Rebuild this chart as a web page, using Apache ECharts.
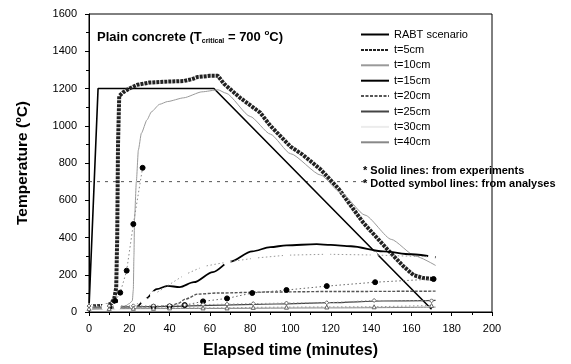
<!DOCTYPE html>
<html>
<head>
<meta charset="utf-8">
<script src="https://cdn.jsdelivr.net/npm/echarts@6/dist/echarts.min.js"></script>
<style>
html,body{margin:0;padding:0;background:#fff;}
#c{width:571px;height:364px;}
</style>
</head>
<body>
<div id="c"></div>
<script>
// ---- data (time in minutes, temperature in °C) ----
const legendNames = ['RABT scenario','t=5cm','t=10cm','t=15cm','t=20cm','t=25cm','t=30cm','t=40cm'];
const rabt = [[0,20],[4.5,1200],[62,1200],[170,15]];
const exp5 = [[0,30],[8,33],[11,45],[12.5,70],[13.5,130],[14,400],[14.4,900],[15,1160],[17,1180],[20,1200],[24,1220],[30,1232],[39,1237],[47,1240],[51,1250],[54,1262],[60,1268],[64,1268],[67,1225],[75,1150],[85,1070],[90,1000],[100,888],[106,845],[115,765],[124,660],[136,481],[148,337],[156,246],[161,198],[166,182],[171,177]];
const exp10 = [[0,25],[15,28],[18,32],[20,45],[21.5,60],[22,120],[22.3,300],[22.6,500],[23.5,700],[24.5,870],[26,960],[28.8,1032],[31,1075],[35,1115],[39,1130],[47,1150],[56,1182],[64,1193],[68,1175],[80,1050],[90,955],[100,850],[115,735],[125,640],[137,520],[150,390],[162,300],[172,250]];
const exp15 = [[0,20],[20,22],[24,32],[28,70],[33.6,123],[39,140],[45,134],[52,160],[61.5,214],[70,270],[81,326],[90,348],[98,358],[113,364],[120,360],[130,353],[146,326],[160,310],[172,294]];
const exp20 = [[0,22],[30,25],[40,32],[44,45],[48,70],[54,96],[64,102],[87,107],[120,110],[172,112]];
const exp25 = [[0,25],[20,27],[40,30],[60,36],[93,43],[120,50],[146,59],[172,62]];
const exp30 = [[0,20],[40,22],[80,24],[120,27],[172,30]];
const exp40 = [[0,17],[60,19],[120,22],[172,26]];
const anaA = [[13,59],[15.5,104],[18.7,222],[22,472],[26.6,774]];
const anaB = [[0,25],[10,25],[22,27],[32,28],[40,30],[47.5,37],[56.6,57],[68.5,73],[81,102],[98,118],[118,139],[142,160],[171,177]];
const anaC = [[0,27],[8,28],[14,30],[22,35],[27.4,60],[32,93],[47.5,200],[56.5,244],[68.5,268],[82,289],[98,305],[118,310],[141.5,306],[170,296]];
const anaD = [[0,32],[10,32],[22,33],[32,33],[40,35],[47.5,38],[56.6,40],[68.5,42],[81.5,45],[98,48],[118,50],[141.5,62],[170,60]];
const anaE = [[0,18],[10,18],[22,20],[32,20],[40,22],[56.6,22],[68.5,22],[81.5,25],[98,26],[118,27],[141.5,28],[170,35]];
const critical = [[0,700],[138,700]];
const xMax = 200, xStep = 20, yMax = 1600, yStep = 200;

const FF = '"Liberation Sans", Arial, sans-serif';
const chart = echarts.init(document.getElementById('c'), null, {renderer:'canvas'});

function exp(name, data, color, width, type, smooth){
  return {type:'line', name, data, symbol:'none', smooth: smooth||false, smoothMonotone:'x',
    lineStyle:{color, width, type: type||'solid'}, itemStyle:{color}, z:3, silent:true};
}
function ana(name, data, lineColor, symbol, symColor, size, filled){
  return {type:'line', name, data, symbol, symbolSize:size,
    lineStyle:{color:lineColor, width:1, type:[1.5,2.5]},
    itemStyle:{color: filled? symColor : '#fff', borderColor:symColor, borderWidth:1},
    z:4, silent:true};
}

chart.setOption({
  animation:false,
  backgroundColor:'#fff',
  textStyle:{fontFamily:FF},
  grid:{left:89,right:79,top:14,bottom:51,show:true,borderColor:'#000',borderWidth:1,containLabel:false},
  title:{
    left:97, top:29, padding:0,
    text:'{b|Plain concrete (T}{sub|critical}{b| = 700 }{sup|o}{b|C)}',
    textStyle:{rich:{
      b:{fontSize:13,fontWeight:'bold',color:'#000',fontFamily:FF,lineHeight:16},
      sub:{fontSize:7,fontWeight:'bold',color:'#000',fontFamily:FF,lineHeight:8,verticalAlign:'bottom'},
      sup:{fontSize:8,fontWeight:'bold',color:'#000',fontFamily:FF,lineHeight:8,verticalAlign:'top'}
    }}
  },
  legend:{
    data:legendNames, orient:'vertical', left:360, top:29, itemWidth:28, itemHeight:10, itemGap:4.4,
    padding:0, textStyle:{fontSize:11,color:'#000',fontFamily:FF}, selectedMode:false,
    itemStyle:{opacity:0}
  },
  graphic:[
    {type:'text', left:363, top:165, style:{text:'* Solid lines: from experiments', font:'bold 11px '+FF, fill:'#000'}},
    {type:'text', left:363, top:178, style:{text:'* Dotted symbol lines: from analyses', font:'bold 11px '+FF, fill:'#000'}}
  ],
  xAxis:{
    type:'value', min:0, max:xMax, interval:xStep,
    name:'Elapsed time (minutes)', nameLocation:'middle', nameGap:31,
    nameTextStyle:{fontSize:16,fontWeight:'bold',color:'#000',fontFamily:FF},
    axisLine:{lineStyle:{color:'#000',width:1}},
    axisTick:{show:true,length:4,lineStyle:{color:'#000'}},
    minorTick:{show:true,splitNumber:2,length:3,lineStyle:{color:'#000'}},
    axisLabel:{fontSize:11,color:'#000',margin:11,fontFamily:FF, formatter:v=>String(v)},
    splitLine:{show:false}
  },
  yAxis:{
    type:'value', min:0, max:yMax, interval:yStep,
    name:'{b|Temperature (}{sup|o}{b|C)}', nameLocation:'middle', nameGap:57, nameRotate:90,
    nameTextStyle:{rich:{
      b:{fontSize:15.5,fontWeight:'bold',color:'#000',fontFamily:FF,lineHeight:18},
      sup:{fontSize:9,fontWeight:'bold',color:'#000',fontFamily:FF,lineHeight:9,verticalAlign:'top'}
    }},
    axisLine:{show:true,lineStyle:{color:'#000',width:1}},
    axisTick:{show:true,length:4,lineStyle:{color:'#000'}},
    minorTick:{show:true,splitNumber:2,length:3,lineStyle:{color:'#000'}},
    axisLabel:{fontSize:11,color:'#000',margin:12,fontFamily:FF, formatter:v=>String(v)},
    splitLine:{show:false}
  },
  series:[
    exp('RABT scenario', rabt, '#000', 1.6),
    exp('t=5cm', exp5, '#222', 4, [3,1]),
    exp('t=10cm', exp10, '#9a9a9a', 1, 'solid', 0.2),
    exp('t=15cm', exp15, '#000', 1.8, 'solid', 0.3),
    exp('t=20cm', exp20, '#555', 1.4, [3,1.5], 0.3),
    exp('t=25cm', exp25, '#444', 1.2, 'solid', 0.3),
    exp('t=30cm', exp30, '#ececec', 1, 'solid', 0.3),
    exp('t=40cm', exp40, '#888', 1, 'solid', 0.3),
    ana('anaA', anaA, '#888', 'circle', '#000', 5, true),
    ana('anaB', anaB, '#666', 'circle', '#000', 5, true),
    ana('anaC', anaC, '#999', 'emptyCircle', '#777', 5, false),
    ana('anaD', anaD, '#999', 'diamond', '#666', 4, false),
    ana('anaE', anaE, '#999', 'triangle', '#666', 4, false),
    {type:'line', name:'critical', data:critical, symbol:'none', lineStyle:{color:'#555',width:1,type:[3,5]}, z:2, silent:true}
  ]
});
</script>
</body>
</html>
